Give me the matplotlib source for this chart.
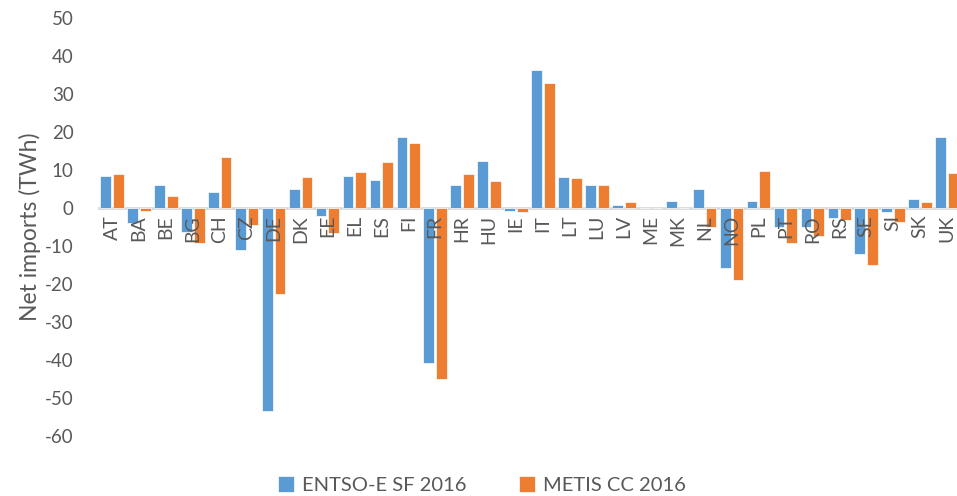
import matplotlib.pyplot as plt
import numpy as np

plt.rcParams['font.family'] = ['Lato', 'DejaVu Sans']

# 国家代码
countries = ['AT', 'BA', 'BE', 'BG', 'CH', 'CZ', 'DE', 'DK', 'EE', 'EL', 'ES', 'FI',
             'FR', 'HR', 'HU', 'IE', 'IT', 'LT', 'LU', 'LV', 'ME', 'MK', 'NL', 'NO',
             'PL', 'PT', 'RO', 'RS', 'SE', 'SI', 'SK', 'UK']
entsoe = [8.4, -3.9, 6.1, -6.4, 4.3, -11.0, -53.5, 5.1, -2.1, 8.5, 7.5, 18.7,
          -40.8, 6.1, 12.5, -0.9, 36.4, 8.1, 6.1, 0.9, 0.1, 1.9, 5.1, -15.9,
          1.9, -5.1, -5.1, -2.5, -12.0, -1.1, 2.5, 18.6]
metis = [8.9, -0.8, 3.2, -9.3, 13.3, -4.4, -22.7, 8.2, -6.5, 9.4, 12.2, 17.2,
         -45.1, 9.0, 7.2, -1.1, 33.0, 7.9, 6.1, 1.7, 0.0, 0.0, -4.9, -18.9,
         9.7, -9.2, -7.4, -3.2, -15.0, -3.6, 1.6, 9.1]
yticks = list(range(-60, 51, 10))

blue = '#5B9BD5'
orange = '#ED7D31'
grey = '#595959'

fig = plt.figure(figsize=(9.57, 4.96), dpi=100)
ax = fig.add_axes([98.5 / 957, 1 - 436 / 496, 862 / 957, 418 / 496])

x = np.arange(len(countries))
w = 0.4
ax.bar(x - 0.237, entsoe, w, color=blue, edgecolor='white', linewidth=0.5, label='ENTSO-E SF 2016')
ax.bar(x + 0.237, metis, w, color=orange, edgecolor='white', linewidth=0.5, label='METIS CC 2016')

ax.set_xlim(-0.5, len(countries) - 0.5)
ax.set_ylim(-60, 50)
ax.set_yticks(yticks)
ax.set_yticklabels([str(v) for v in yticks])
ax.set_xticks(x)
ax.set_xticklabels(countries)

for s in ['top', 'right', 'left']:
    ax.spines[s].set_visible(False)
ax.spines['bottom'].set_position(('data', 0))
ax.spines['bottom'].set_color('#D9D9D9')
ax.spines['bottom'].set_linewidth(2)
ax.spines['bottom'].set_zorder(0)

ax.tick_params(axis='x', length=0, pad=5, labelsize=14, labelcolor=grey, labelrotation=90)
ax.tick_params(axis='y', length=0, pad=18, labelsize=13.5, labelcolor=grey)

ax.set_ylabel('Net imports (TWh)', fontsize=16.5, color=grey, labelpad=3)

ax.legend(loc='center', bbox_to_anchor=(482 / 957, 11 / 496), bbox_transform=fig.transFigure,
          ncol=2, frameon=False, fontsize=14.5, labelcolor=grey, handlelength=0.8,
          handleheight=0.8, columnspacing=2.6, handletextpad=0.4)

plt.savefig('out.png', dpi=100)
